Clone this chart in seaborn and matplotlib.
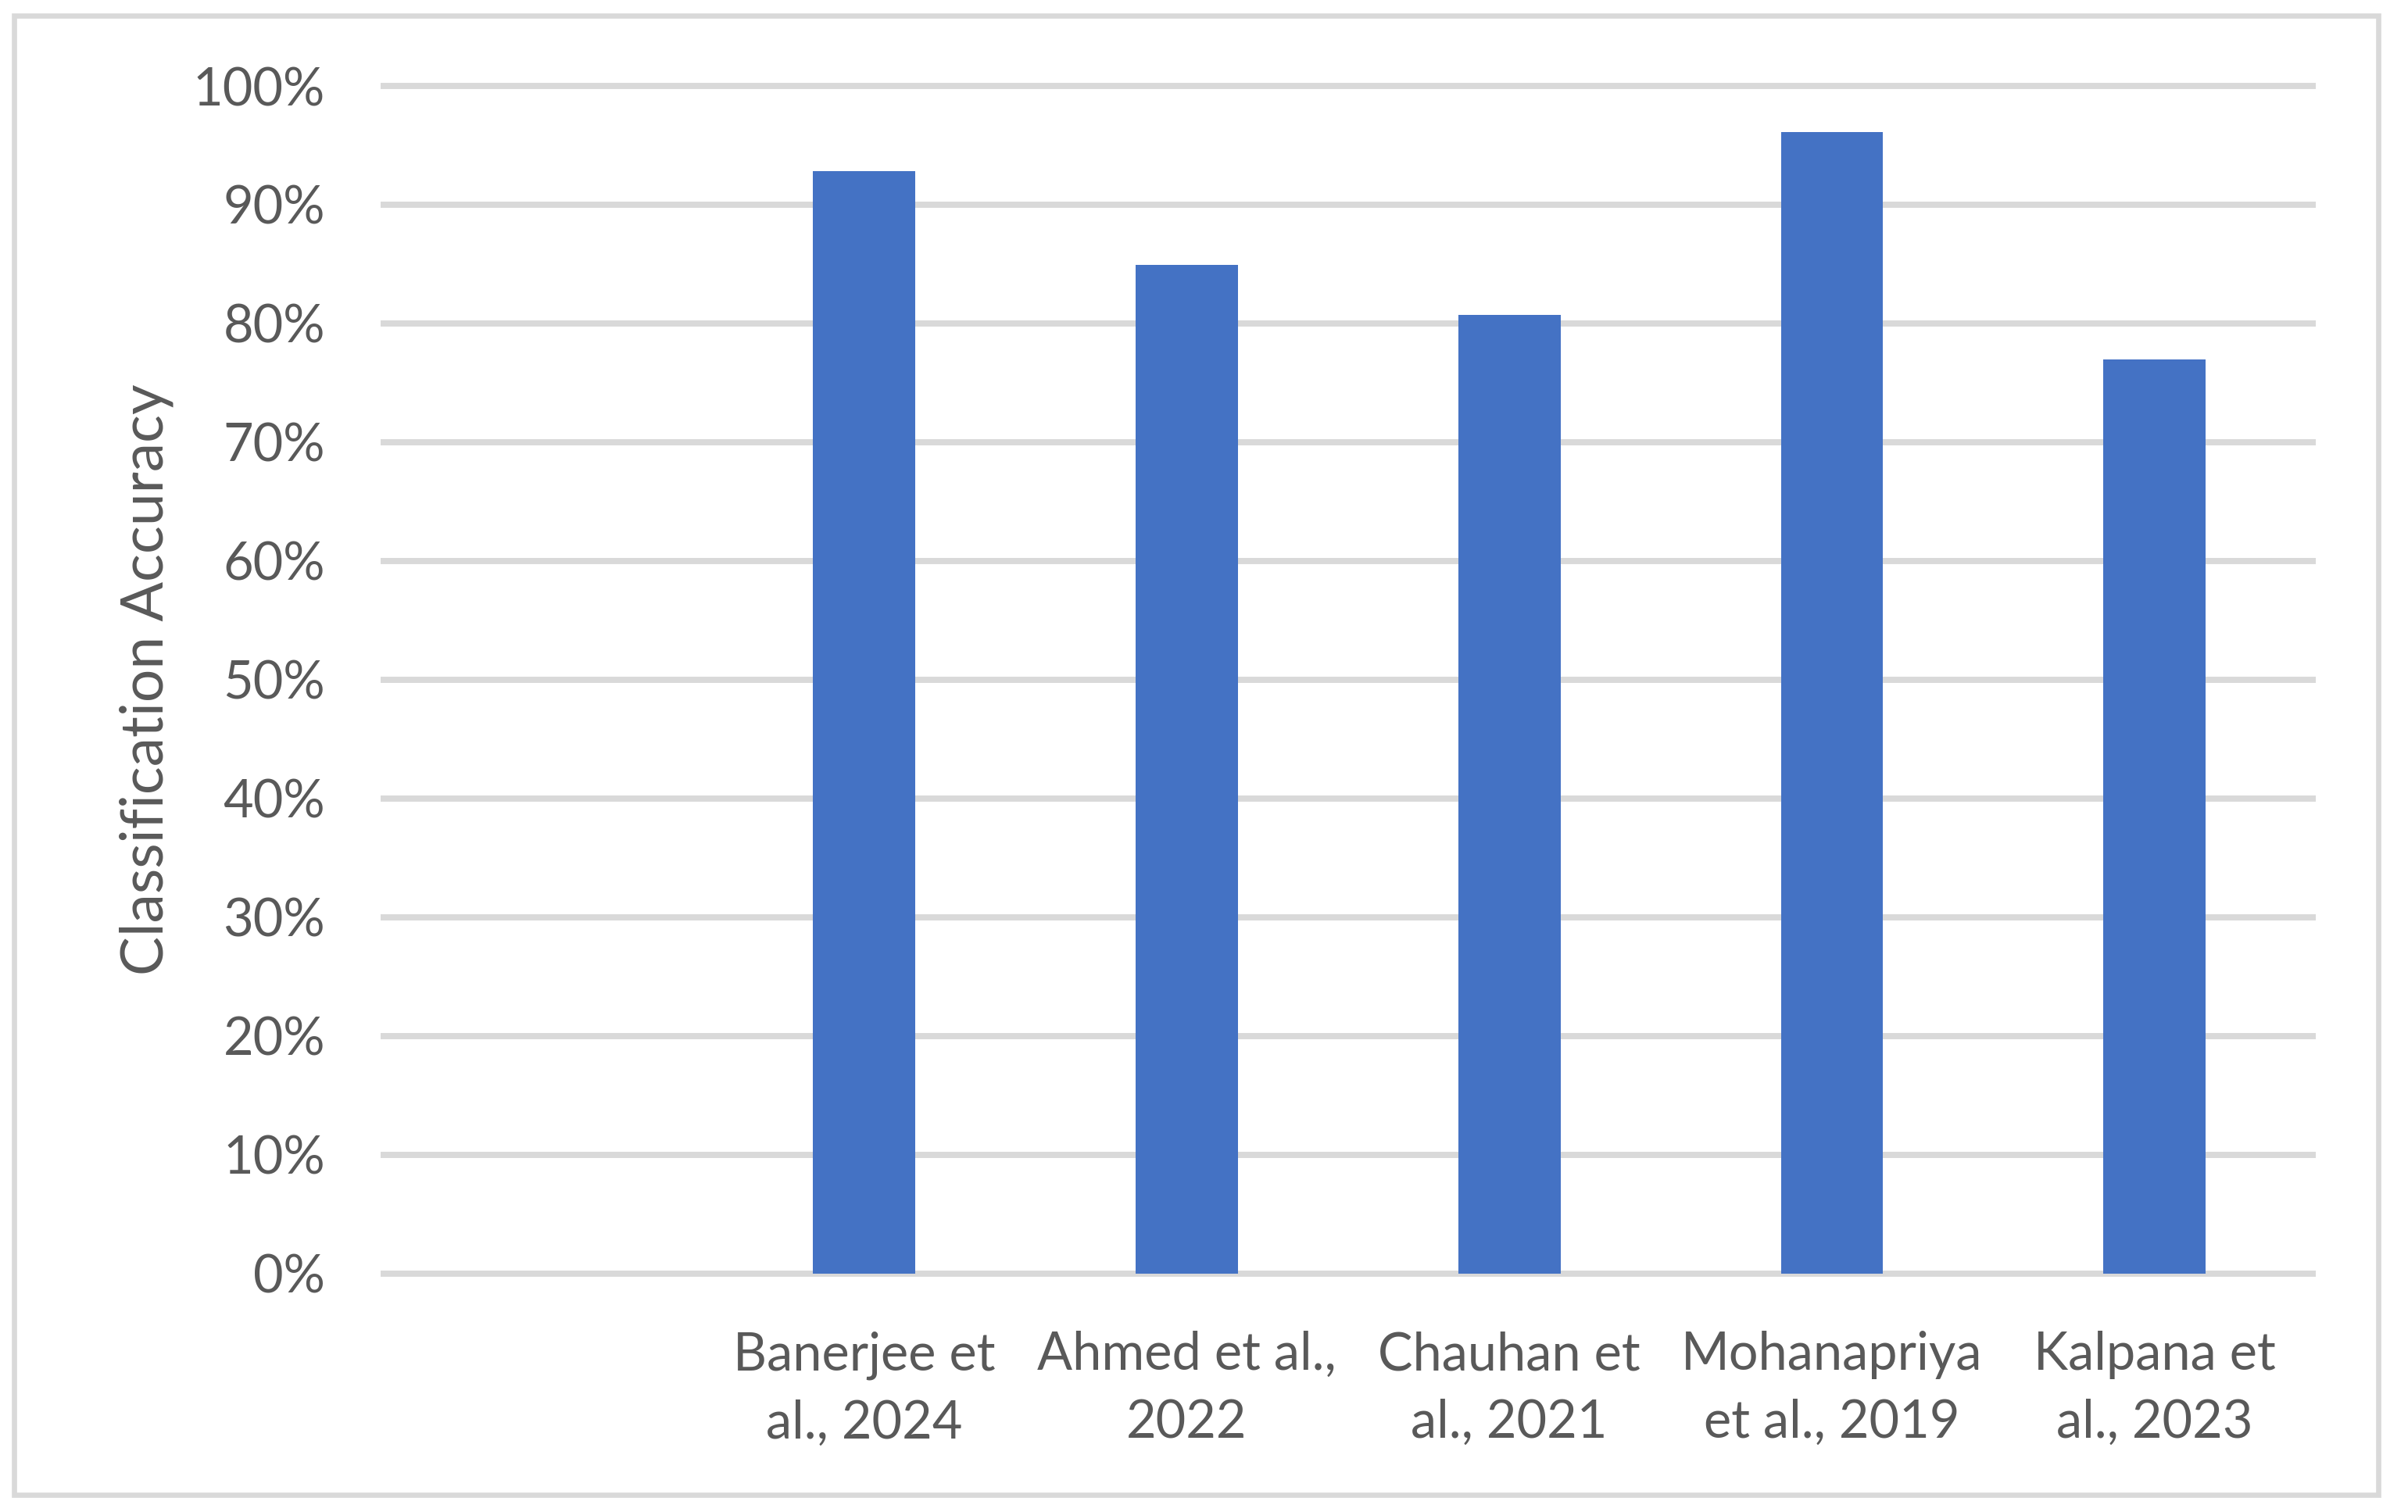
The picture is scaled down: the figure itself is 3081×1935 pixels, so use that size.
import numpy as np
import pandas as pd
import seaborn as sns
import matplotlib.pyplot as plt
from matplotlib.patches import Rectangle
from matplotlib.ticker import PercentFormatter

# study labels and classification accuracy
studies = ["Banerjee et\nal., 2024", "Ahmed et al.,\n2022", "Chauhan et\nal., 2021",
           "Mohanapriya\net al., 2019", "Kalpana et\nal., 2023"]
accuracy = [0.928, 0.849, 0.807, 0.961, 0.770]
y_ticks = [0.0, 0.1, 0.2, 0.3, 0.4, 0.5, 0.6, 0.7, 0.8, 0.9, 1.0]

df = pd.DataFrame({"study": studies, "accuracy": accuracy})

sns.set_theme(style="white")
plt.rcParams["font.family"] = ["Lato", "DejaVu Sans"]

text_color = "#595959"
grid_color = "#D9D9D9"

fig = plt.figure(figsize=(3081 / 300, 1935 / 300), dpi=300)
ax = fig.add_axes([0.158, 0.1499, 0.8037, 0.8011])

sns.barplot(data=df, x="study", y="accuracy", color="#4472C4", saturation=1,
            width=0.317, linewidth=0, edgecolor="none", ax=ax, zorder=3)

# the first category slot is empty in the original
ax.set_xlim(-1.5, 4.5)
ax.set_ylim(-0.01, 1.01)
ax.set_yticks(y_ticks)
ax.yaxis.set_major_formatter(PercentFormatter(1.0, decimals=0))

ax.grid(axis="y", color=grid_color, linewidth=1.9, zorder=0)
ax.set_axisbelow(True)
for s in ax.spines.values():
    s.set_visible(False)

ax.tick_params(axis="y", length=0, pad=17, labelsize=16, labelcolor=text_color)
ax.tick_params(axis="x", length=0, pad=14, labelsize=16, labelcolor=text_color)
for lab in ax.get_xticklabels():
    lab.set_linespacing(1.5)

ax.set_xlabel("")
ax.set_ylabel("Classification Accuracy", fontsize=18, color=text_color, labelpad=6)

# light grey frame round the whole chart
fig.patches.append(Rectangle((18 / 3081, 1 - 1913 / 1935), (3043 - 18) / 3081, (1913 - 20) / 1935,
                             transform=fig.transFigure, fill=False,
                             edgecolor=grid_color, linewidth=1.6))

fig.savefig("out.png", dpi=300, facecolor="white")
